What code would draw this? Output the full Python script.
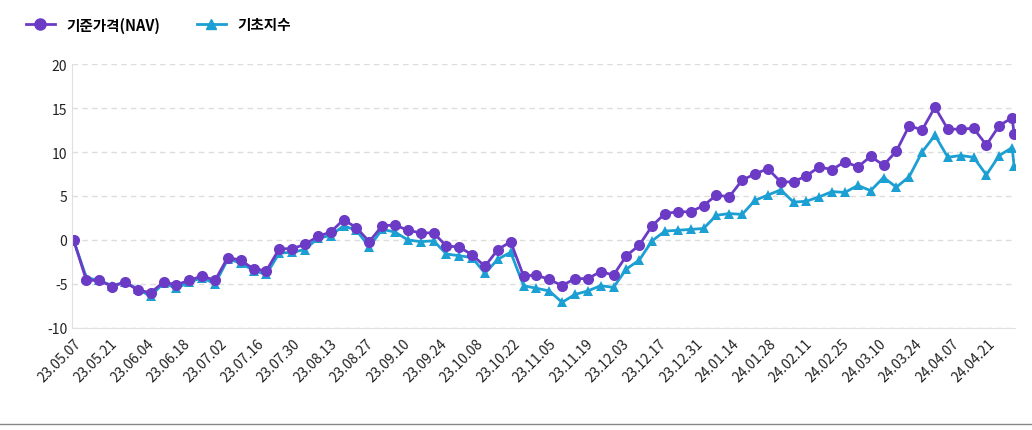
import numpy as np, pandas as pd, seaborn as sns
import matplotlib
matplotlib.use("Agg")
import matplotlib.pyplot as plt
from matplotlib.lines import Line2D

plt.rcParams["font.family"] = ["Noto Sans CJK KR", "DejaVu Sans"]
plt.rcParams["axes.unicode_minus"] = False

nav = [0,-4.6,-4.6,-5.3,-4.8,-5.7,-6.0,-4.8,-5.1,-4.6,
       -4.1,-4.6,-2.0,-2.3,-3.3,-3.5,-1.0,-1.0,-0.5,0.4,
       0.9,2.3,1.4,-0.2,1.6,1.7,1.1,0.8,0.8,-0.7,
       -0.8,-1.7,-3.0,-1.1,-0.2,-4.1,-4.0,-4.5,-5.2,-4.4,
       -4.4,-3.6,-4.0,-1.8,-0.6,1.6,3.0,3.2,3.2,3.9,
       5.1,4.9,6.8,7.5,8.1,6.6,6.6,7.3,8.3,8.0,
       8.9,8.3,9.5,8.5,10.1,13.0,12.5,15.1,12.6,12.6,
       12.7,10.8,13.0,13.9,12.0]
index = [0,-4.3,-4.6,-5.2,-4.8,-5.6,-6.4,-4.9,-5.5,-4.8,
         -4.3,-5.0,-2.2,-2.6,-3.5,-3.9,-1.5,-1.4,-1.1,0.2,
         0.5,1.6,1.1,-0.8,1.2,0.9,0.0,-0.2,-0.1,-1.6,
         -1.8,-2.0,-3.8,-2.2,-1.4,-5.2,-5.5,-5.8,-7.1,-6.2,
         -5.8,-5.2,-5.4,-3.3,-2.3,-0.1,1.0,1.1,1.2,1.3,
         2.8,3.0,2.9,4.5,5.1,5.7,4.3,4.4,4.9,5.5,
         5.4,6.2,5.6,7.1,6.0,7.2,10.0,11.9,9.4,9.6,
         9.4,7.4,9.6,10.5,8.4]
start = pd.Timestamp("2023-05-07")
offsets = list(np.arange(74) * 4.92) + [73 * 4.92 + 0.8]
dates = [start + pd.Timedelta(days=float(o)) for o in offsets]
tick_labels = ["23.05.07","23.05.21","23.06.04","23.06.18","23.07.02","23.07.16","23.07.30",
               "23.08.13","23.08.27","23.09.10","23.09.24","23.10.08","23.10.22","23.11.05",
               "23.11.19","23.12.03","23.12.17","23.12.31","24.01.14","24.01.28","24.02.11",
               "24.02.25","24.03.10","24.03.24","24.04.07","24.04.21"]
tick_dates = [pd.to_datetime("20" + t, format="%Y.%m.%d") for t in tick_labels]

C_NAV = "#6c3bc5"; C_IDX = "#1c9fd2"
df = pd.DataFrame({"date": dates, "nav": nav, "idx": index})

fig = plt.figure(figsize=(10.32, 4.31), dpi=100)
ax = fig.add_axes([0.07, 0.237, 0.914, 0.612])
sns.lineplot(data=df, x="date", y="idx", ax=ax, color=C_IDX, lw=2, marker="^", markersize=7, markeredgewidth=0)
sns.lineplot(data=df, x="date", y="nav", ax=ax, color=C_NAV, lw=2, marker="o", markersize=8, markeredgewidth=0)
ax.set_ylim(-10, 20)
ax.set_yticks([-10, -5, 0, 5, 10, 15, 20])
ax.set_xlim(start - pd.Timedelta(days=0.5), dates[-1] + pd.Timedelta(days=0.5))
ax.set_xticks(tick_dates)
ax.set_xticklabels(tick_labels, rotation=45, ha="right", rotation_mode="anchor")
ax.tick_params(axis="both", length=0, labelsize=10, colors="#222222")
ax.tick_params(axis="x", pad=6)
ax.grid(axis="y", color="#dddddd", ls=(0, (4, 3)), lw=1)
ax.set_xlabel(""); ax.set_ylabel("")
for s in ["top", "right"]:
    ax.spines[s].set_visible(False)
ax.spines["left"].set_color("#e0e0e0")
ax.spines["bottom"].set_color("#e0e0e0")

handles = [Line2D([], [], color=C_NAV, lw=2, marker="o", markersize=8),
           Line2D([], [], color=C_IDX, lw=2, marker="^", markersize=7)]
fig.legend(handles, ["기준가격(NAV)", "기초지수"], loc="upper left", bbox_to_anchor=(0.012, 0.99),
           ncol=2, frameon=False, handlelength=2, columnspacing=2.5,
           prop={"weight": "bold", "size": 10.5})
fig.add_artist(Line2D([0, 1], [0.013, 0.013], color="#888888", lw=1, transform=fig.transFigure))
fig.savefig("out.png", dpi=100, facecolor="white")
